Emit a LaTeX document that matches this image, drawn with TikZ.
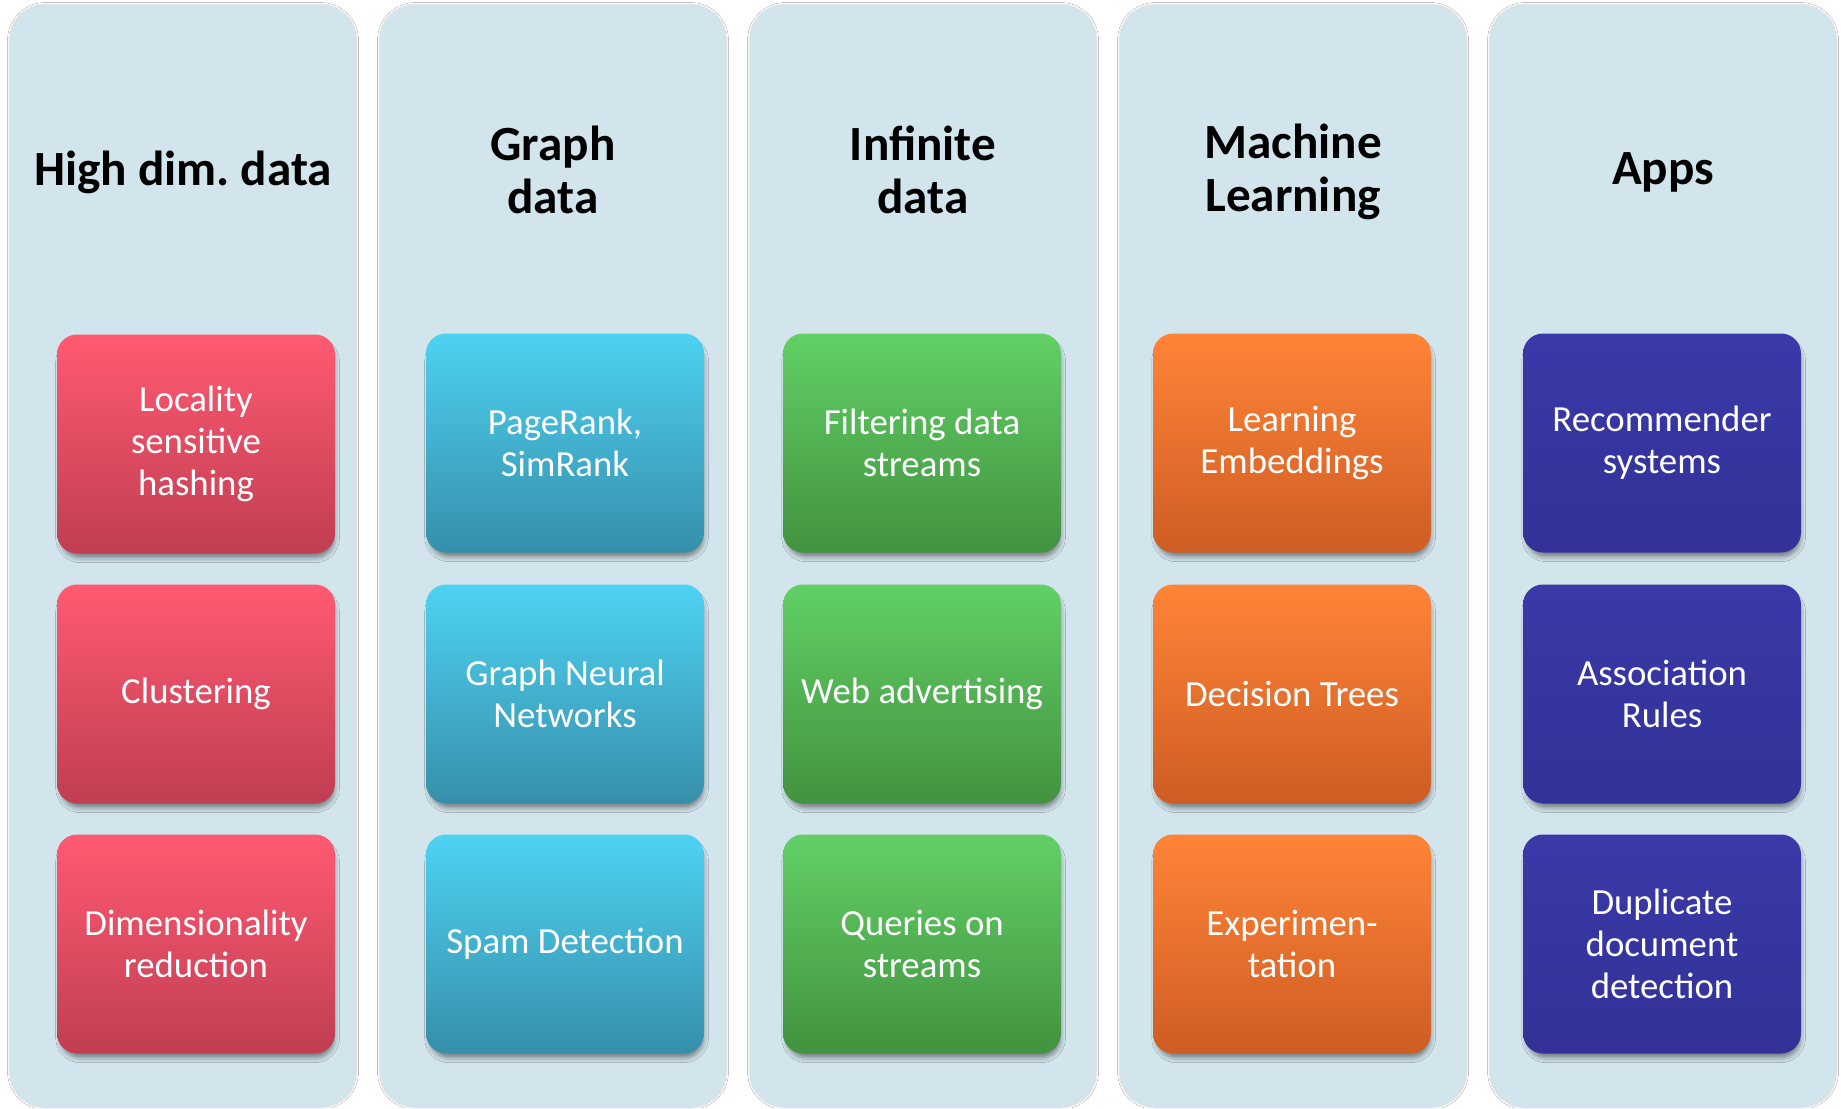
\documentclass[tikz,border=0pt]{standalone}
\usepackage{fontspec}
\setmainfont{Carlito}
\usetikzlibrary{shadows.blur}
\definecolor{panelbg}{RGB}{210,228,236}
\definecolor{redT}{RGB}{255,90,114}
\definecolor{redB}{RGB}{192,62,82}
\definecolor{cyanT}{RGB}{78,210,242}
\definecolor{cyanB}{RGB}{54,143,170}
\definecolor{greenT}{RGB}{98,208,102}
\definecolor{greenB}{RGB}{66,146,63}
\definecolor{orangeT}{RGB}{255,132,55}
\definecolor{orangeB}{RGB}{206,93,36}
\definecolor{navyT}{RGB}{58,57,168}
\definecolor{navyB}{RGB}{50,50,152}
\tikzset{
  panel/.style={fill=panelbg, draw=none, rounded corners=17.5pt,
    minimum width=173pt, minimum height=551pt, inner sep=0pt,
    blur shadow={shadow xshift=0pt, shadow yshift=0pt, shadow blur radius=1.2pt, shadow opacity=25}},
  title/.style={font=\fontsize{24.6}{26.5}\selectfont\bfseries, align=center, text=black, inner sep=0pt},
  tbox/.style={rounded corners=10pt, draw=none, minimum width=139pt, minimum height=109.5pt,
    inner sep=0pt, align=center, text=white, font=\fontsize{18.4}{21}\selectfont,
    blur shadow={shadow xshift=0.8pt, shadow yshift=-3pt, shadow blur radius=2.5pt,
      shadow scale=0.985, shadow opacity=45}},
  redbox/.style={tbox, top color=redT, bottom color=redB},
  cyanbox/.style={tbox, top color=cyanT, bottom color=cyanB},
  greenbox/.style={tbox, top color=greenT, bottom color=greenB},
  orangebox/.style={tbox, top color=orangeT, bottom color=orangeB},
  navybox/.style={tbox, top color=navyT, bottom color=navyB},
}
\begin{document}
\begin{tikzpicture}[x=0.5pt, y=-0.5pt]
\useasboundingbox[fill=white] (0,0) rectangle (1841,1108);
% panels
\node[panel] (p1) at (183,556) {};
\node[panel] (p2) at (553,556) {};
\node[panel] (p3) at (923,556) {};
\node[panel] (p4) at (1293,556) {};
\node[panel] (p5) at (1663,556) {};
% titles
\node[title] (t1) at (183,172) {High dim.\ data};
\node[title] (t2) at (553,170) {Graph\\data};
\node[title] (t3) at (923,170) {Infinite\\data};
\node[title] (t4) at (1293,172) {Machine\\Learning};
\node[title] (t5) at (1663,172) {Apps};
% column 1
\node[redbox] (b11) at (196,444) {Locality\\sensitive\\hashing};
\node[redbox] (b12) at (196,694) {Clustering};
\node[redbox] (b13) at (196,944) {Dimensionality\\reduction};
% column 2
\node[cyanbox] (b21) at (565,443) {PageRank,\\SimRank};
\node[cyanbox] (b22) at (565,694) {Graph Neural\\Networks};
\node[cyanbox] (b23) at (565,944) {Spam Detection};
% column 3
\node[greenbox] (b31) at (922,443) {Filtering data\\streams};
\node[greenbox] (b32) at (922,694) {Web advertising};
\node[greenbox] (b33) at (922,944) {Queries on\\streams};
% column 4
\node[orangebox] (b41) at (1292,443) {Learning\\Embeddings};
\node[orangebox] (b42) at (1292,694) {Decision Trees};
\node[orangebox] (b43) at (1292,944) {Experimen-\\tation};
% column 5
\node[navybox] (b51) at (1662,443) {Recommender\\systems};
\node[navybox] (b52) at (1662,694) {Association\\Rules};
\node[navybox] (b53) at (1662,944) {Duplicate\\document\\detection};
\end{tikzpicture}
\end{document}
